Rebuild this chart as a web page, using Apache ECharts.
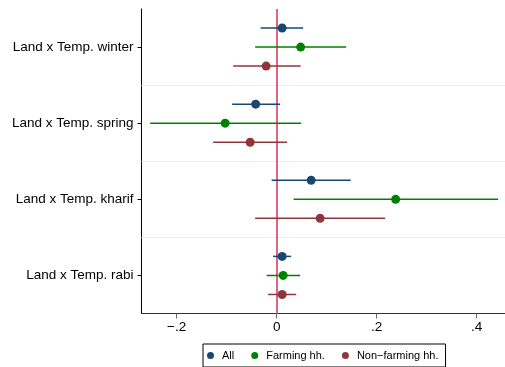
<!DOCTYPE html>
<html>
<head>
<meta charset="utf-8">
<script src="https://cdn.jsdelivr.net/npm/echarts@6/dist/echarts.min.js"></script>
<style>
  html, body { margin: 0; padding: 0; background: #fff; }
  #chart { width: 505px; height: 367px; }
</style>
</head>
<body>
<div id="chart"></div>
<script>
// Interaction terms (top to bottom)
const terms = ['Land x Temp. winter', 'Land x Temp. spring', 'Land x Temp. kharif', 'Land x Temp. rabi'];

// Point estimates and 95% confidence bounds per sample
const allEst  = [0.011, -0.042, 0.069, 0.011];
const allLo   = [-0.032, -0.089, -0.010, -0.007];
const allHi   = [0.053, 0.007, 0.148, 0.029];

const farmEst = [0.048, -0.103, 0.238, 0.013];
const farmLo  = [-0.043, -0.253, 0.034, -0.020];
const farmHi  = [0.139, 0.049, 0.443, 0.047];

const nonEst  = [-0.021, -0.053, 0.087, 0.011];
const nonLo   = [-0.087, -0.127, -0.043, -0.017];
const nonHi   = [0.048, 0.021, 0.217, 0.039];

const xTicks = [-0.2, 0, 0.2, 0.4];
const seriesNames = ['All', 'Farming hh.', 'Non\u2212farming hh.'];
const colors = ['#1a476f', '#008000', '#90353b'];

const FONT = '"Liberation Sans", Arial, Helvetica, sans-serif';

// each term occupies 4 row slots; samples sit on slots 1..3
function rowPos(termIdx, seriesIdx) { return termIdx * 4 + seriesIdx + 1; }

function buildSeries(idx, est, lo, hi) {
  const ciData = est.map((_, i) => [lo[i], hi[i], rowPos(i, idx)]);
  const ptData = est.map((v, i) => [v, rowPos(i, idx)]);
  return [
    {
      name: seriesNames[idx],
      type: 'custom',
      xAxisIndex: 0,
      yAxisIndex: 1,
      z: 3,
      data: ciData,
      encode: { x: [0, 1], y: 2 },
      renderItem: function (params, api) {
        const a = api.coord([api.value(0), api.value(2)]);
        const b = api.coord([api.value(1), api.value(2)]);
        return {
          type: 'line',
          shape: { x1: a[0], y1: a[1], x2: b[0], y2: b[1] },
          style: { stroke: colors[idx], lineWidth: 1.5 }
        };
      },
      silent: true
    },
    {
      name: seriesNames[idx],
      type: 'scatter',
      xAxisIndex: 0,
      yAxisIndex: 1,
      z: 4,
      symbol: 'circle',
      symbolSize: 9,
      itemStyle: { color: colors[idx], opacity: 1 },
      data: ptData
    }
  ];
}

const chart = echarts.init(document.getElementById('chart'), null, { renderer: 'canvas' });

const series = []
  .concat(buildSeries(0, allEst, allLo, allHi))
  .concat(buildSeries(1, farmEst, farmLo, farmHi))
  .concat(buildSeries(2, nonEst, nonLo, nonHi));

// group separators and the zero reference line
const sepStyle = { color: '#e8efef', width: 1, type: 'solid' };
series.push({
  type: 'line',
  xAxisIndex: 0,
  yAxisIndex: 1,
  data: [],
  silent: true,
  markLine: {
    silent: true,
    symbol: 'none',
    label: { show: false },
    data: [
      { yAxis: 4, lineStyle: sepStyle },
      { yAxis: 8, lineStyle: sepStyle },
      { yAxis: 12, lineStyle: sepStyle }
    ],
    z: 1
  },
  z: 1
});
series.push({
  type: 'line',
  xAxisIndex: 0,
  yAxisIndex: 1,
  data: [],
  silent: true,
  z: 2,
  markLine: {
    silent: true,
    symbol: 'none',
    label: { show: false },
    lineStyle: { color: '#dc6580', width: 2, type: 'solid' },
    data: [{ xAxis: 0 }],
    z: 2
  }
});

chart.setOption({
  animation: false,
  backgroundColor: '#ffffff',
  grid: { left: 141.5, right: 0, top: 9, bottom: 53.5, containLabel: false },
  legend: {
    bottom: 0,
    left: 203,
    data: seriesNames.map((n, i) => ({ name: n, itemStyle: { color: colors[i] } })),
    icon: 'circle',
    itemWidth: 7,
    itemHeight: 7,
    itemGap: 17,
    padding: [6, 7, 6, 4],
    borderColor: '#000',
    borderWidth: 1,
    borderRadius: 0,
    textStyle: { fontFamily: FONT, fontSize: 11, color: '#000', padding: [0, 0, 0, 3] }
  },
  xAxis: {
    type: 'value',
    min: -0.2703,
    max: 0.4567,
    splitLine: { show: false },
    axisLine: { show: true, onZero: false, lineStyle: { color: '#333', width: 1 } },
    axisTick: { show: true, length: 5, lineStyle: { color: '#666', width: 1 }, customValues: xTicks },
    axisLabel: {
      customValues: xTicks,
      fontFamily: FONT, fontSize: 13.5, color: '#000', margin: 7,
      formatter: function (v) {
        if (Math.abs(v) < 1e-9) return '0';
        const s = Math.abs(v).toFixed(1).replace(/^0/, '');
        return (v < 0 ? '\u2212' : '') + s;
      }
    }
  },
  yAxis: [
    {
      type: 'category',
      data: terms,
      inverse: true,
      boundaryGap: true,
      axisLine: { show: true, onZero: false, lineStyle: { color: '#000', width: 1 } },
      axisTick: { show: true, alignWithLabel: true, length: 4, lineStyle: { color: '#000' } },
      axisLabel: { fontFamily: FONT, fontSize: 13.5, color: '#000', margin: 8 },
      splitLine: { show: false }
    },
    {
      type: 'value',
      min: 0,
      max: 16,
      inverse: true,
      show: false,
      splitLine: { show: false }
    }
  ],
  series: series
});
</script>
</body>
</html>
